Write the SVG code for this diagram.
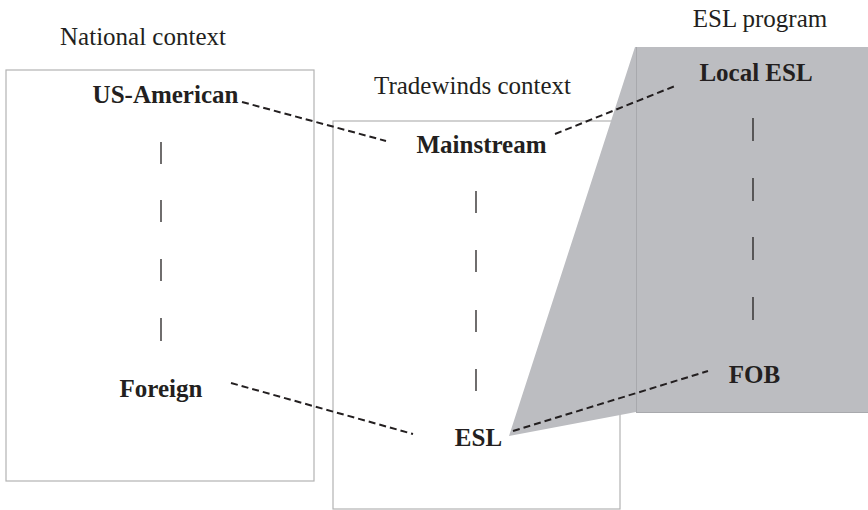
<svg xmlns="http://www.w3.org/2000/svg" width="868" height="510" viewBox="0 0 868 510">
<style>
.ctx{font-family:"Liberation Serif","Times New Roman",serif;font-size:25px;fill:#231f20;text-anchor:middle}
.lbl{font-family:"Liberation Serif","Times New Roman",serif;font-size:25px;font-weight:bold;fill:#231f20;text-anchor:middle}
.box{fill:#ffffff;stroke:#b3b3b3;stroke-width:1.2}
.tick{stroke:#231f20;stroke-width:1.3}
.dash{stroke:#231f20;stroke-width:2;stroke-dasharray:7 4;fill:none}
</style>
<rect width="868" height="510" fill="#ffffff"/>
<g id="national-context">
<rect class="box" x="6" y="70" width="308" height="411"/>
<text class="ctx" x="143" y="45">National context</text>
</g>
<g id="tradewinds-context">
<rect class="box" x="333" y="121" width="287" height="388"/>
<text class="ctx" x="472.5" y="94">Tradewinds context</text>
</g>
<g id="esl-program">
<polygon points="635,47 868,47 868,412 636,412 509,436" fill="#bcbdc1"/>
<line x1="636.5" y1="47" x2="636.5" y2="412" stroke="#a8a9ad" stroke-width="1"/>
<line x1="636" y1="412.5" x2="868" y2="412.5" stroke="#a8a9ad" stroke-width="1"/>
<text class="ctx" x="760" y="27">ESL program</text>
</g>
<g id="us-american"><text class="lbl" x="165.5" y="103">US-American</text></g>
<g id="foreign"><text class="lbl" x="161" y="397">Foreign</text></g>
<g id="mainstream"><text class="lbl" x="481.5" y="153">Mainstream</text></g>
<g id="esl"><text class="lbl" x="478.5" y="446">ESL</text></g>
<g id="local-esl"><text class="lbl" x="756" y="81">Local ESL</text></g>
<g id="fob"><text class="lbl" x="754.5" y="383">FOB</text></g>
<g id="connectors">
<g class="tick">
<line x1="161" y1="142" x2="161" y2="164"/>
<line x1="161" y1="200" x2="161" y2="222"/>
<line x1="161" y1="259" x2="161" y2="281"/>
<line x1="161" y1="318" x2="161" y2="341"/>
<line x1="476" y1="191" x2="476" y2="213"/>
<line x1="476" y1="250" x2="476" y2="272"/>
<line x1="476" y1="310" x2="476" y2="332"/>
<line x1="476" y1="369" x2="476" y2="391"/>
<line x1="753" y1="118" x2="753" y2="141"/>
<line x1="753" y1="178" x2="753" y2="201"/>
<line x1="753" y1="237" x2="753" y2="260"/>
<line x1="753" y1="297" x2="753" y2="320"/>
</g>
<line class="dash" x1="242" y1="102" x2="386" y2="141"/>
<line class="dash" x1="555" y1="134" x2="675" y2="86"/>
<line class="dash" x1="231" y1="383" x2="413" y2="434"/>
<line class="dash" x1="513" y1="431" x2="708" y2="371"/>
</g>
</svg>
